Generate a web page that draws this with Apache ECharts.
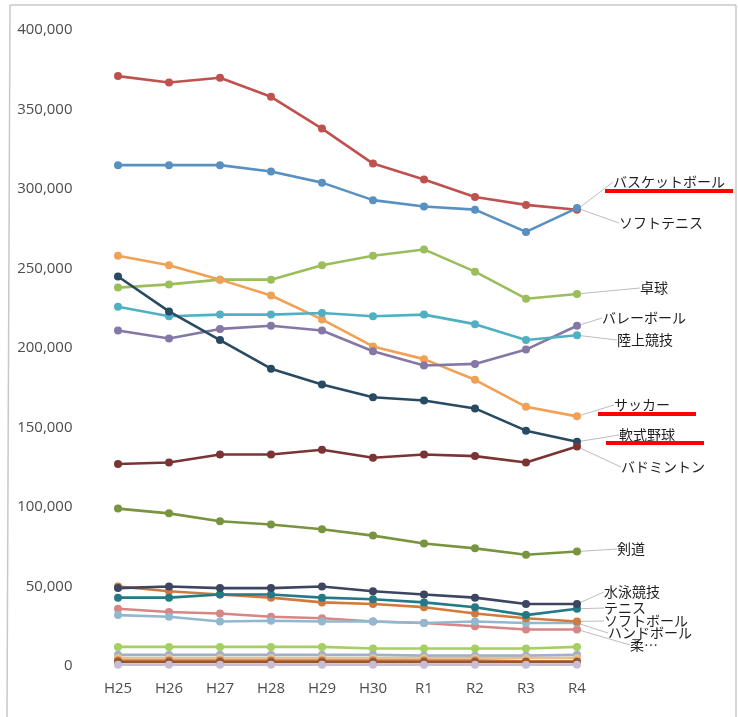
<!DOCTYPE html>
<html><head><meta charset="utf-8">
<script src="https://cdn.jsdelivr.net/npm/echarts@6/dist/echarts.min.js"></script>
<style>html,body{margin:0;padding:0;background:#fff}#c{width:738px;height:717px}</style>
</head><body><div id="c"></div>
<script>
const categories = ['H25','H26','H27','H28','H29','H30','R1','R2','R3','R4'];
const yTicks = [0,50000,100000,150000,200000,250000,300000,350000,400000];

const basketball   = [371000,367000,370000,358000,338000,316000,306000,295000,290000,287000];
const softTennis   = [315000,315000,315000,311000,304000,293000,289000,287000,273000,288000];
const tableTennis  = [238000,240000,243000,243000,252000,258000,262000,248000,231000,234000];
const soccer       = [258000,252000,243000,233000,218000,201000,193000,180000,163000,157000];
const volleyball   = [211000,206000,212000,214000,211000,198000,189000,190000,199000,214000];
const track        = [226000,220000,221000,221000,222000,220000,221000,215000,205000,208000];
const softBaseball = [245000,223000,205000,187000,177000,169000,167000,162000,148000,141000];
const badminton    = [127000,128000,133000,133000,136000,131000,133000,132000,128000,138000];
const kendo        = [99000,96000,91000,89000,86000,82000,77000,74000,70000,72000];
const swimming     = [49000,50000,49000,49000,50000,47000,45000,43000,39000,39000];
const tennis       = [43000,43000,45000,45000,43000,42000,40000,37000,32000,36000];
const softball     = [50000,47000,45000,43000,40000,39000,37000,33000,30000,28000];
const handball     = [32000,31000,28000,28500,28000,28000,27000,28000,27000,27000];
const judo         = [36000,34000,33000,31000,30000,28000,27000,25000,23000,23000];
const minorA       = [12000,12000,12000,12000,12000,11000,11000,11000,11000,12000];
const minorB       = [7000,7000,7000,7000,7000,7000,6500,6500,6500,7000];
const minorC       = [5000,5000,5000,5000,5000,5000,5000,5000,5000,5000];
const minorD       = [3500,3500,3500,3500,3500,3500,3500,3500,3000,3000];
const minorE       = [2500,2500,2500,2500,2500,2500,2500,2500,2500,2500];
const minorF       = [800,800,800,800,800,800,800,800,800,800];

const seriesDefs = [
  {name:'バスケットボール', data:basketball, color:'#bf524e', label:'バスケットボール', pos:[613,182]},
  {name:'ソフトテニス', data:softTennis, color:'#5890c2', label:'ソフトテニス', pos:[619,223]},
  {name:'卓球', data:tableTennis, color:'#9bbd5c', label:'卓球', pos:[640,288]},
  {name:'サッカー', data:soccer, color:'#f0a155', label:'サッカー', pos:[614,405]},
  {name:'バレーボール', data:volleyball, color:'#8577a6', label:'バレーボール', pos:[602,318]},
  {name:'陸上競技', data:track, color:'#4fb0c4', label:'陸上競技', pos:[617,340]},
  {name:'軟式野球', data:softBaseball, color:'#284a63', label:'軟式野球', pos:[619,435]},
  {name:'バドミントン', data:badminton, color:'#7b3434', label:'バドミントン', pos:[621,467]},
  {name:'剣道', data:kendo, color:'#78943f', label:'剣道', pos:[617,549]},
  {name:'m1', data:minorA, color:'#a6cf62'},
  {name:'m2', data:minorB, color:'#9fb0c8'},
  {name:'m3', data:minorC, color:'#e8c08a'},
  {name:'m4', data:minorD, color:'#d8783a'},
  {name:'m5', data:minorE, color:'#8a5a3a'},
  {name:'m6', data:minorF, color:'#c9bcd6'},
  {name:'柔道', data:judo, color:'#d88585', label:'柔…', pos:[630,645]},
  {name:'ハンドボール', data:handball, color:'#92b8d0', label:'ハンドボール', pos:[608,633]},
  {name:'ソフトボール', data:softball, color:'#d07a3e', label:'ソフトボール', pos:[604,621]},
  {name:'テニス', data:tennis, color:'#237a86', label:'テニス', pos:[604,608]},
  {name:'水泳競技', data:swimming, color:'#3d4560', label:'水泳競技', pos:[604,592]}
];

const last = categories.length - 1;
const series = seriesDefs.map(d => ({
  name: d.name,
  type: 'line',
  symbol: 'circle',
  symbolSize: 8,
  lineStyle: {width: 2.6, color: d.color},
  itemStyle: {color: d.color},
  emphasis: {disabled: true},
  data: d.data.map((v, i) => (d.label && i === last) ? {value: v, label: {show: true}} : v),
  label: {
    show: false,
    formatter: () => d.label || '',
    fontFamily: 'Noto Sans CJK JP',
    fontSize: 14,
    color: '#1e1e1e'
  },
  labelLine: {show: true, lineStyle: {color: '#bdbdbd', width: 1}},
  labelLayout: d.pos ? {x: d.pos[0], y: d.pos[1], align: 'left', verticalAlign: 'middle', hideOverlap: false} : undefined
}));

const chart = echarts.init(document.getElementById('c'), null, {renderer: 'canvas'});
chart.setOption({
  backgroundColor: '#fff',
  animation: false,
  grid: {left: 92.5, right: 135.5, top: 30, bottom: 51},
  xAxis: {
    type: 'category',
    data: categories,
    boundaryGap: true,
    axisLine: {show: false},
    axisTick: {show: false},
    axisLabel: {color: '#4d4d4d', fontSize: 15, fontFamily: 'Open Sans', margin: 15}
  },
  yAxis: {
    type: 'value',
    min: yTicks[0],
    max: yTicks[yTicks.length - 1],
    interval: 50000,
    axisLine: {show: false},
    axisTick: {show: false},
    splitLine: {show: false},
    axisLabel: {color: '#4d4d4d', fontSize: 15, fontFamily: 'Open Sans', margin: 20,
      formatter: v => v.toLocaleString('en-US')}
  },
  graphic: [
    {type: 'line', shape: {x1: 10, y1: 5, x2: 736, y2: 5}, style: {stroke: '#c8c8c8', lineWidth: 1.5}},
    {type: 'line', shape: {x1: 10, y1: 5, x2: 7, y2: 717}, style: {stroke: '#c8c8c8', lineWidth: 1.5}},
    {type: 'line', shape: {x1: 736, y1: 5, x2: 736, y2: 717}, style: {stroke: '#c8c8c8', lineWidth: 1.5}},
    {type: 'rect', shape: {x: 605, y: 189, width: 128, height: 4}, style: {fill: '#ff0000'}, z: 100},
    {type: 'rect', shape: {x: 598, y: 412, width: 98, height: 4}, style: {fill: '#ff0000'}, z: 100},
    {type: 'rect', shape: {x: 606, y: 441, width: 98, height: 4}, style: {fill: '#ff0000'}, z: 100}
  ],
  series: series
});
</script>
</body></html>
